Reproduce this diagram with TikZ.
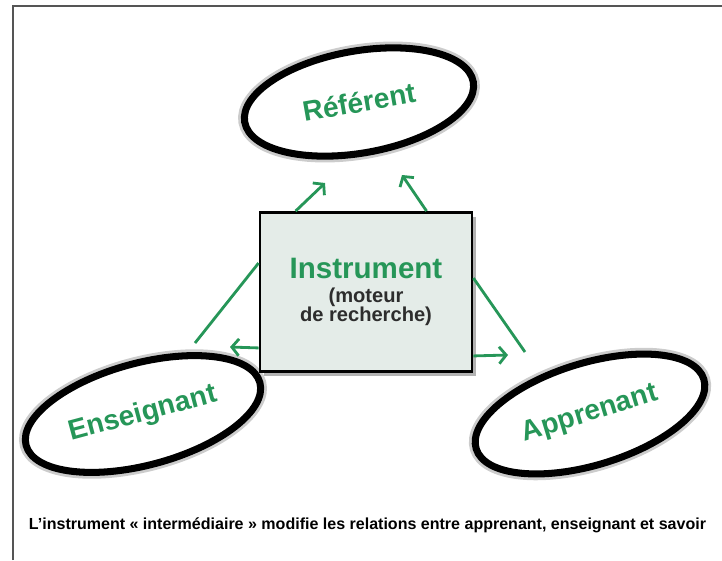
\documentclass[tikz,border=0pt]{standalone}
\usepackage{fontspec}
\setmainfont{Liberation Sans}
\usetikzlibrary{arrows.meta, calc, positioning, shapes.geometric, shadows}
\definecolor{vert}{RGB}{38,150,88}
\definecolor{fond}{RGB}{228,236,232}
\definecolor{gris}{RGB}{45,45,45}
\definecolor{cadre}{RGB}{85,85,85}

\begin{document}
\begin{tikzpicture}[x=0.025cm, y=-0.025cm,
        >={Straight Barb[length=5pt,width=12pt]},
        bulle/.style={ellipse, draw=black, line width=5pt, fill=white,
            preaction={draw=gray!40, line width=9pt},
            minimum height=2.55cm, inner sep=0pt,
            text=vert, font=\bfseries\fontsize{20}{24}\selectfont},
        boite/.style={draw=black, line width=2pt, fill=fond,
            minimum width=5.3cm, minimum height=3.975cm, align=center,
            text=gris, font=\bfseries\fontsize{14.3}{13.5}\selectfont,
            drop shadow={shadow xshift=3pt, shadow yshift=-3pt, fill=black!60}},
        lien/.style={draw=vert, line width=2pt},
        fleche/.style={lien, ->}]
    \useasboundingbox (0,0) rectangle (722,560);
    \draw[cadre, line width=1.5pt] (13,560) -- (13,6) -- (722,6);

    % les trois poles
    \node[bulle, minimum width=5.8cm, rotate=10] (ref) at (359,102) {Référent};
    \node[bulle, minimum width=6.05cm, rotate=15] (ens) at (143,414) {Enseignant};
    \node[bulle, minimum width=5.95cm, rotate=17] (app) at (590,414) {Apprenant};

    % l'instrument au milieu
    \node[boite] (inst) at (366,292)
        {{\color{vert}\fontsize{21}{21}\selectfont Instrument}\\[3pt](moteur\\de recherche)};

    \coordinate (pRefG) at (325,183);
    \coordinate (pRefD) at (402,175);
    \coordinate (pEns) at (195,343);
    \coordinate (pEnsF) at (230,347);
    \coordinate (pApp) at (525,352);
    \coordinate (pAppF) at (508,355);

    \draw[fleche] ($(inst.north west)+(37,0)$) -- (pRefG);
    \draw[fleche] ($(inst.north west)+(168,0)$) -- (pRefD);
    \draw[lien] ($(inst.north west)+(0,52)$) -- (pEns);
    \draw[fleche] ($(inst.south west)+(0,-25)$) -- (pEnsF);
    \draw[lien] ($(inst.north east)+(0,67)$) -- (pApp);
    \draw[fleche] ($(inst.south east)+(0,-17)$) -- (pAppF);

    \node[anchor=west, font=\bfseries\fontsize{11.4}{13}\selectfont] (legende) at (24,525)
        {L'instrument « intermédiaire » modifie les relations entre apprenant, enseignant et savoir};
\end{tikzpicture}
\end{document}
